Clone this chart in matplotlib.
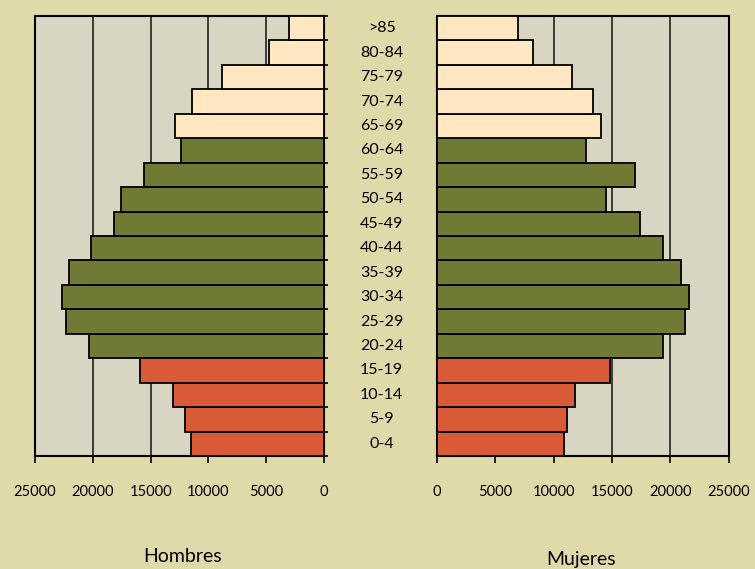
import matplotlib
matplotlib.use('Agg')
import matplotlib.pyplot as plt
import numpy as np

edades = ['0-4', '5-9', '10-14', '15-19', '20-24', '25-29', '30-34', '35-39',
          '40-44', '45-49', '50-54', '55-59', '60-64', '65-69', '70-74',
          '75-79', '80-84', '>85']
hombres = [11500, 12050, 13050, 15950, 20350, 22300, 22650, 22100,
           20150, 18200, 17550, 15600, 12350, 12850, 11400, 8800, 4800, 3050]
mujeres = [10850, 11150, 11850, 14800, 19400, 21300, 21650, 20950,
           19400, 17450, 14500, 16950, 12750, 14100, 13400, 11550, 8200, 6950]
grupo = ['joven'] * 4 + ['adulto'] * 9 + ['mayor'] * 5
colores = {'joven': '#D95B37', 'adulto': '#707A34', 'mayor': '#FFE8C1'}
ticks = [0, 5000, 10000, 15000, 20000, 25000]

fondo = '#E0DAAA'
panel = '#D8D5C2'

plt.rcParams['font.family'] = ['Lato', 'DejaVu Sans']

fig = plt.figure(figsize=(7.55, 5.69), dpi=100, facecolor=fondo)
W, H = 755.0, 569.0
axL = fig.add_axes([35 / W, (H - 456) / H, 289 / W, 440 / H])
axR = fig.add_axes([437 / W, (H - 456) / H, 291.5 / W, 440 / H])

y = np.arange(len(edades))
cols = [colores[g] for g in grupo]

for ax, vals in ((axL, hombres), (axR, mujeres)):
    ax.set_facecolor(panel)
    ax.barh(y, vals, height=1.0, color=cols, edgecolor='black',
            linewidth=1.3, zorder=3)
    ax.set_xlim(0, 25000)
    ax.set_ylim(-0.5, len(edades) - 0.5)
    ax.set_xticks(ticks)
    ax.set_xticklabels([str(t) for t in ticks], fontsize=10.5)
    ax.tick_params(axis='x', direction='out', length=5, width=1.2, pad=16)
    ax.grid(axis='x', color='#222222', linewidth=1.2, zorder=1)
    for s in ax.spines.values():
        s.set_linewidth(1.5)
        s.set_color('black')

axL.invert_xaxis()

# marcas en los limites de las clases de edad, sobre el eje central
bounds = np.arange(len(edades) + 1) - 0.5
axL.yaxis.tick_right()
axL.set_yticks(bounds)
axL.set_yticklabels([])
axL.tick_params(axis='y', direction='out', length=3, width=1.2)
axR.set_yticks([])

for i, e in enumerate(edades):
    axL.annotate(e, xy=(1, i), xycoords=('axes fraction', 'data'),
                 xytext=(41.5, 0), textcoords='offset points',
                 ha='center', va='center', fontsize=11.5)

fig.text(183 / W, 1 - 557 / H, 'Hombres', ha='center', va='center', fontsize=14)
fig.text(581 / W, 1 - 559 / H, 'Mujeres', ha='center', va='center', fontsize=14)

fig.savefig('out.png', dpi=100, facecolor=fondo)
